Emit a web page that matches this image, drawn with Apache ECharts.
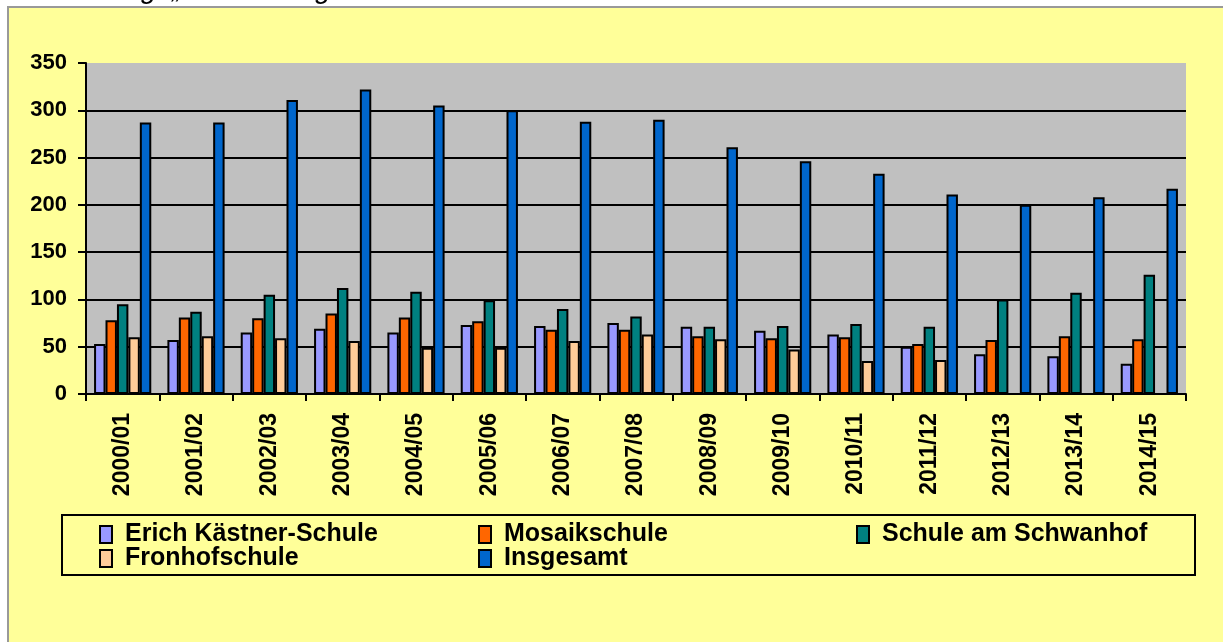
<!DOCTYPE html>
<html style="height: 100%">
<head>
    <meta charset="utf-8">
    <title>Schülerzahlen Förderschulen</title>
    <script type="text/javascript" src="https://cdn.jsdelivr.net/npm/echarts@6/dist/echarts.min.js"></script>
</head>
<body style="height: 100%; margin: 0; background: #fff">
    <div id="container" style="width: 1223px; height: 642px"></div>
    <script type="text/javascript">
        // Schuljahre
        var years = ['2000/01', '2001/02', '2002/03', '2003/04', '2004/05', '2005/06', '2006/07', '2007/08',
            '2008/09', '2009/10', '2010/11', '2011/12', '2012/13', '2013/14', '2014/15'];

        var erichKaestner = [53, 57, 65, 69, 65, 73, 72, 75, 71, 67, 63, 50, 42, 40, 32];
        var mosaik = [78, 81, 80, 85, 81, 77, 68, 68, 61, 59, 60, 53, 57, 61, 58];
        var schwanhof = [95, 87, 105, 112, 108, 99, 90, 82, 71, 72, 74, 71, 100, 107, 126];
        var fronhof = [60, 61, 59, 56, 49, 49, 56, 63, 58, 47, 35, 36, null, null, null];
        var insgesamt = [287, 287, 311, 322, 305, 300, 288, 290, 261, 246, 233, 211, 200, 208, 217];

        var names = ['Erich Kästner-Schule', 'Mosaikschule', 'Schule am Schwanhof', 'Fronhofschule', 'Insgesamt'];
        var colors = ['#9999FF', '#FF6600', '#008080', '#FFCC99', '#0066CC'];
        var yTicks = [0, 50, 100, 150, 200, 250, 300, 350];

        var font = '"Liberation Sans", Arial, sans-serif';

        function bar(i, data) {
            return {
                name: names[i],
                type: 'bar',
                barGap: '0%',
                barCategoryGap: '22%',
                itemStyle: { color: colors[i], borderColor: '#000', borderWidth: 2 },
                data: data
            };
        }

        // legend positions (icon left, row top)
        var legendPos = [[99, 522], [478, 522], [856, 522], [99, 546], [478, 546]];
        var legends = names.map(function (n, i) {
            return {
                data: [n],
                left: legendPos[i][0],
                top: legendPos[i][1],
                padding: 0,
                itemWidth: 12,
                itemHeight: 17,
                icon: 'rect',
                selectedMode: false,
                itemStyle: { borderColor: '#000', borderWidth: 2 },
                textStyle: { fontFamily: font, fontWeight: 'bold', fontSize: 25, color: '#000', padding: [0, 0, 0, 8] }
            };
        });

        var myChart = echarts.init(document.getElementById('container'));
        var option = {
            animation: false,
            backgroundColor: '#fff',
            graphic: [
                {
                    type: 'rect', z: -10,
                    shape: { x: 8, y: 7, width: 1300, height: 700 },
                    style: { fill: '#FFFF99', stroke: '#999', lineWidth: 2 }
                },
                {
                    // title line, cut off at the top of the picture
                    type: 'text', x: 32, y: 4,
                    style: {
                        text: 'Abbildung: „Entwicklung der Schülerzahlen an den Förderschulen“',
                        fontFamily: font, fontStyle: 'italic', fontSize: 28, fill: '#000',
                        verticalAlign: 'bottom'
                    }
                },
                {
                    type: 'rect',
                    shape: { x: 62, y: 515, width: 1133, height: 60 },
                    style: { fill: null, stroke: '#000', lineWidth: 2 }
                }
            ],
            legend: legends,
            grid: {
                left: 86, right: 37, top: 63, bottom: 248,
                show: true, backgroundColor: '#C0C0C0', borderWidth: 0
            },
            xAxis: {
                type: 'category',
                data: years,
                axisLine: { lineStyle: { color: '#000', width: 2 } },
                axisTick: { show: true, length: 7, lineStyle: { color: '#000', width: 2 } },
                axisLabel: {
                    rotate: 90, margin: 19, interval: 0,
                    fontFamily: font, fontWeight: 'bold', fontSize: 23, color: '#000'
                }
            },
            yAxis: {
                type: 'value',
                min: 0, max: 350, interval: 50,
                axisLine: { show: true, lineStyle: { color: '#000', width: 2 } },
                axisTick: { show: true, length: 8, lineStyle: { color: '#000', width: 2 } },
                axisLabel: { margin: 19, fontFamily: font, fontWeight: 'bold', fontSize: 22, color: '#000' },
                splitLine: {
                    lineStyle: {
                        // no line on top edge
                        color: yTicks.map(function (v) { return v === 350 ? 'rgba(0,0,0,0)' : '#000'; }),
                        width: 2
                    }
                }
            },
            series: [
                bar(0, erichKaestner),
                bar(1, mosaik),
                bar(2, schwanhof),
                bar(3, fronhof),
                bar(4, insgesamt)
            ]
        };
        myChart.setOption(option);
    </script>
</body>
</html>
